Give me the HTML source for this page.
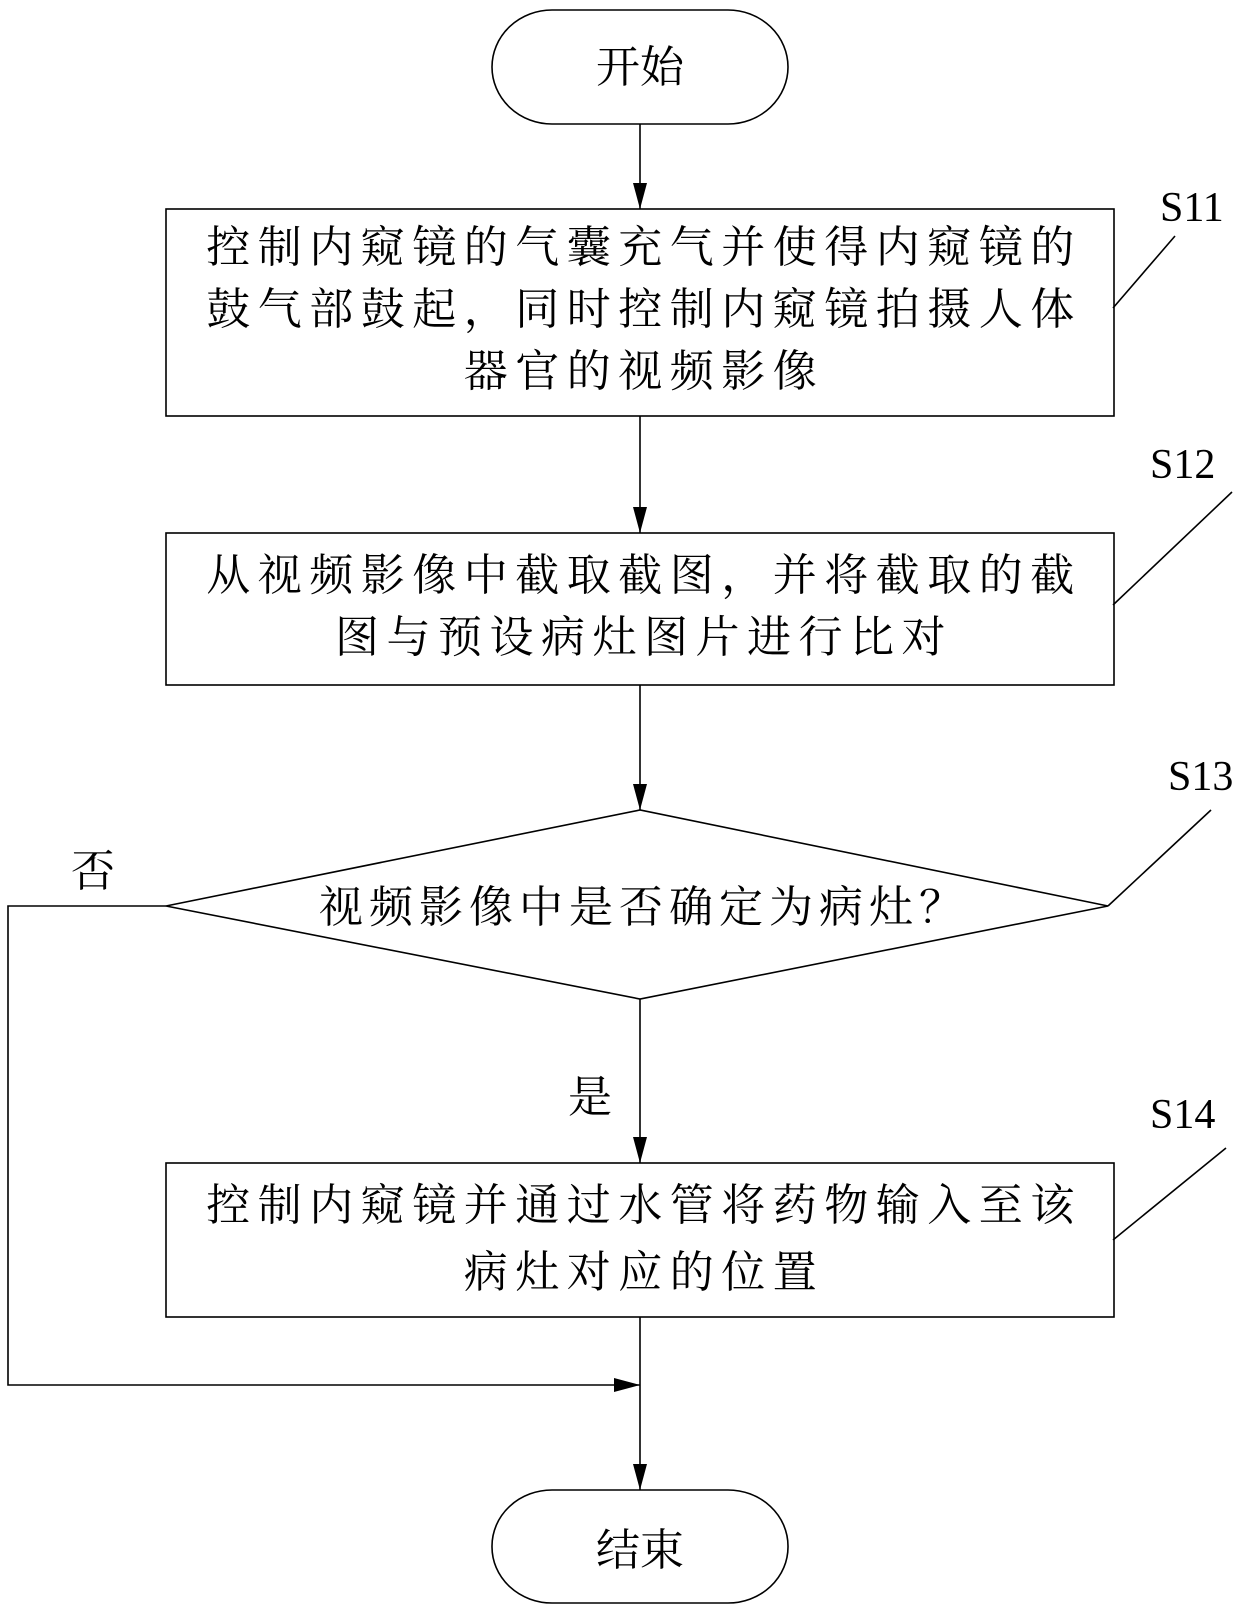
<!DOCTYPE html>
<html><head><meta charset="utf-8"><style>html,body{margin:0;padding:0;background:#fff}</style></head>
<body>
<svg width="1240" height="1610" xmlns="http://www.w3.org/2000/svg" font-family="'Liberation Serif','Noto Serif CJK SC',serif">
<defs><marker id="a" markerWidth="26" markerHeight="14" refX="26" refY="7" orient="auto" markerUnits="userSpaceOnUse" viewBox="0 0 26 14"><path d="M0,0 L26,7 L0,14 z" fill="#000"/></marker></defs>
<g fill="none" stroke="#000" stroke-width="1.6">
<rect x="492" y="10" width="296" height="114" rx="60" ry="57"/>
<rect x="492" y="1490" width="296" height="113" rx="60" ry="56"/>
<rect x="166" y="209" width="948" height="207"/>
<rect x="166" y="533" width="948" height="152"/>
<polygon points="166,906 640,810 1108,906 640,999"/>
<rect x="166" y="1163" width="948" height="154"/>
<line x1="640" y1="124" x2="640" y2="209" marker-end="url(#a)"/>
<line x1="640" y1="416" x2="640" y2="533" marker-end="url(#a)"/>
<line x1="640" y1="685" x2="640" y2="810" marker-end="url(#a)"/>
<line x1="640" y1="999" x2="640" y2="1163" marker-end="url(#a)"/>
<line x1="640" y1="1317" x2="640" y2="1490" marker-end="url(#a)"/>
<polyline points="166,906 8,906 8,1385 640,1385" marker-end="url(#a)"/>
<line x1="1113" y1="308" x2="1175" y2="236"/>
<line x1="1113" y1="605" x2="1232" y2="492"/>
<line x1="1108" y1="906" x2="1211" y2="810"/>
<line x1="1113" y1="1240" x2="1226" y2="1148"/>
</g>
<g font-size="44" text-anchor="middle" fill="#000">
<text x="640" y="82">开始</text>
<text x="644" y="262" letter-spacing="7.5">控制内窥镜的气囊充气并使得内窥镜的</text>
<text x="644" y="324" letter-spacing="7.5">鼓气部鼓起，同时控制内窥镜拍摄人体</text>
<text x="644" y="386" letter-spacing="7.5">器官的视频影像</text>
<text x="644" y="590" letter-spacing="7.5">从视频影像中截取截图，并将截取的截</text>
<text x="644" y="652" letter-spacing="7.5">图与预设病灶图片进行比对</text>
<text x="644" y="922" letter-spacing="6">视频影像中是否确定为病灶？</text>
<text x="644" y="1220" letter-spacing="7.5">控制内窥镜并通过水管将药物输入至该</text>
<text x="644" y="1287" letter-spacing="7.5">病灶对应的位置</text>
<text x="640" y="1565">结束</text>
<text x="93" y="886">否</text>
<text x="590" y="1112">是</text>
</g>
<g font-size="42" fill="#000">
<text x="1160" y="221">S11</text>
<text x="1150" y="478">S12</text>
<text x="1168" y="790">S13</text>
<text x="1150" y="1128">S14</text>
</g>
</svg>
</body></html>
